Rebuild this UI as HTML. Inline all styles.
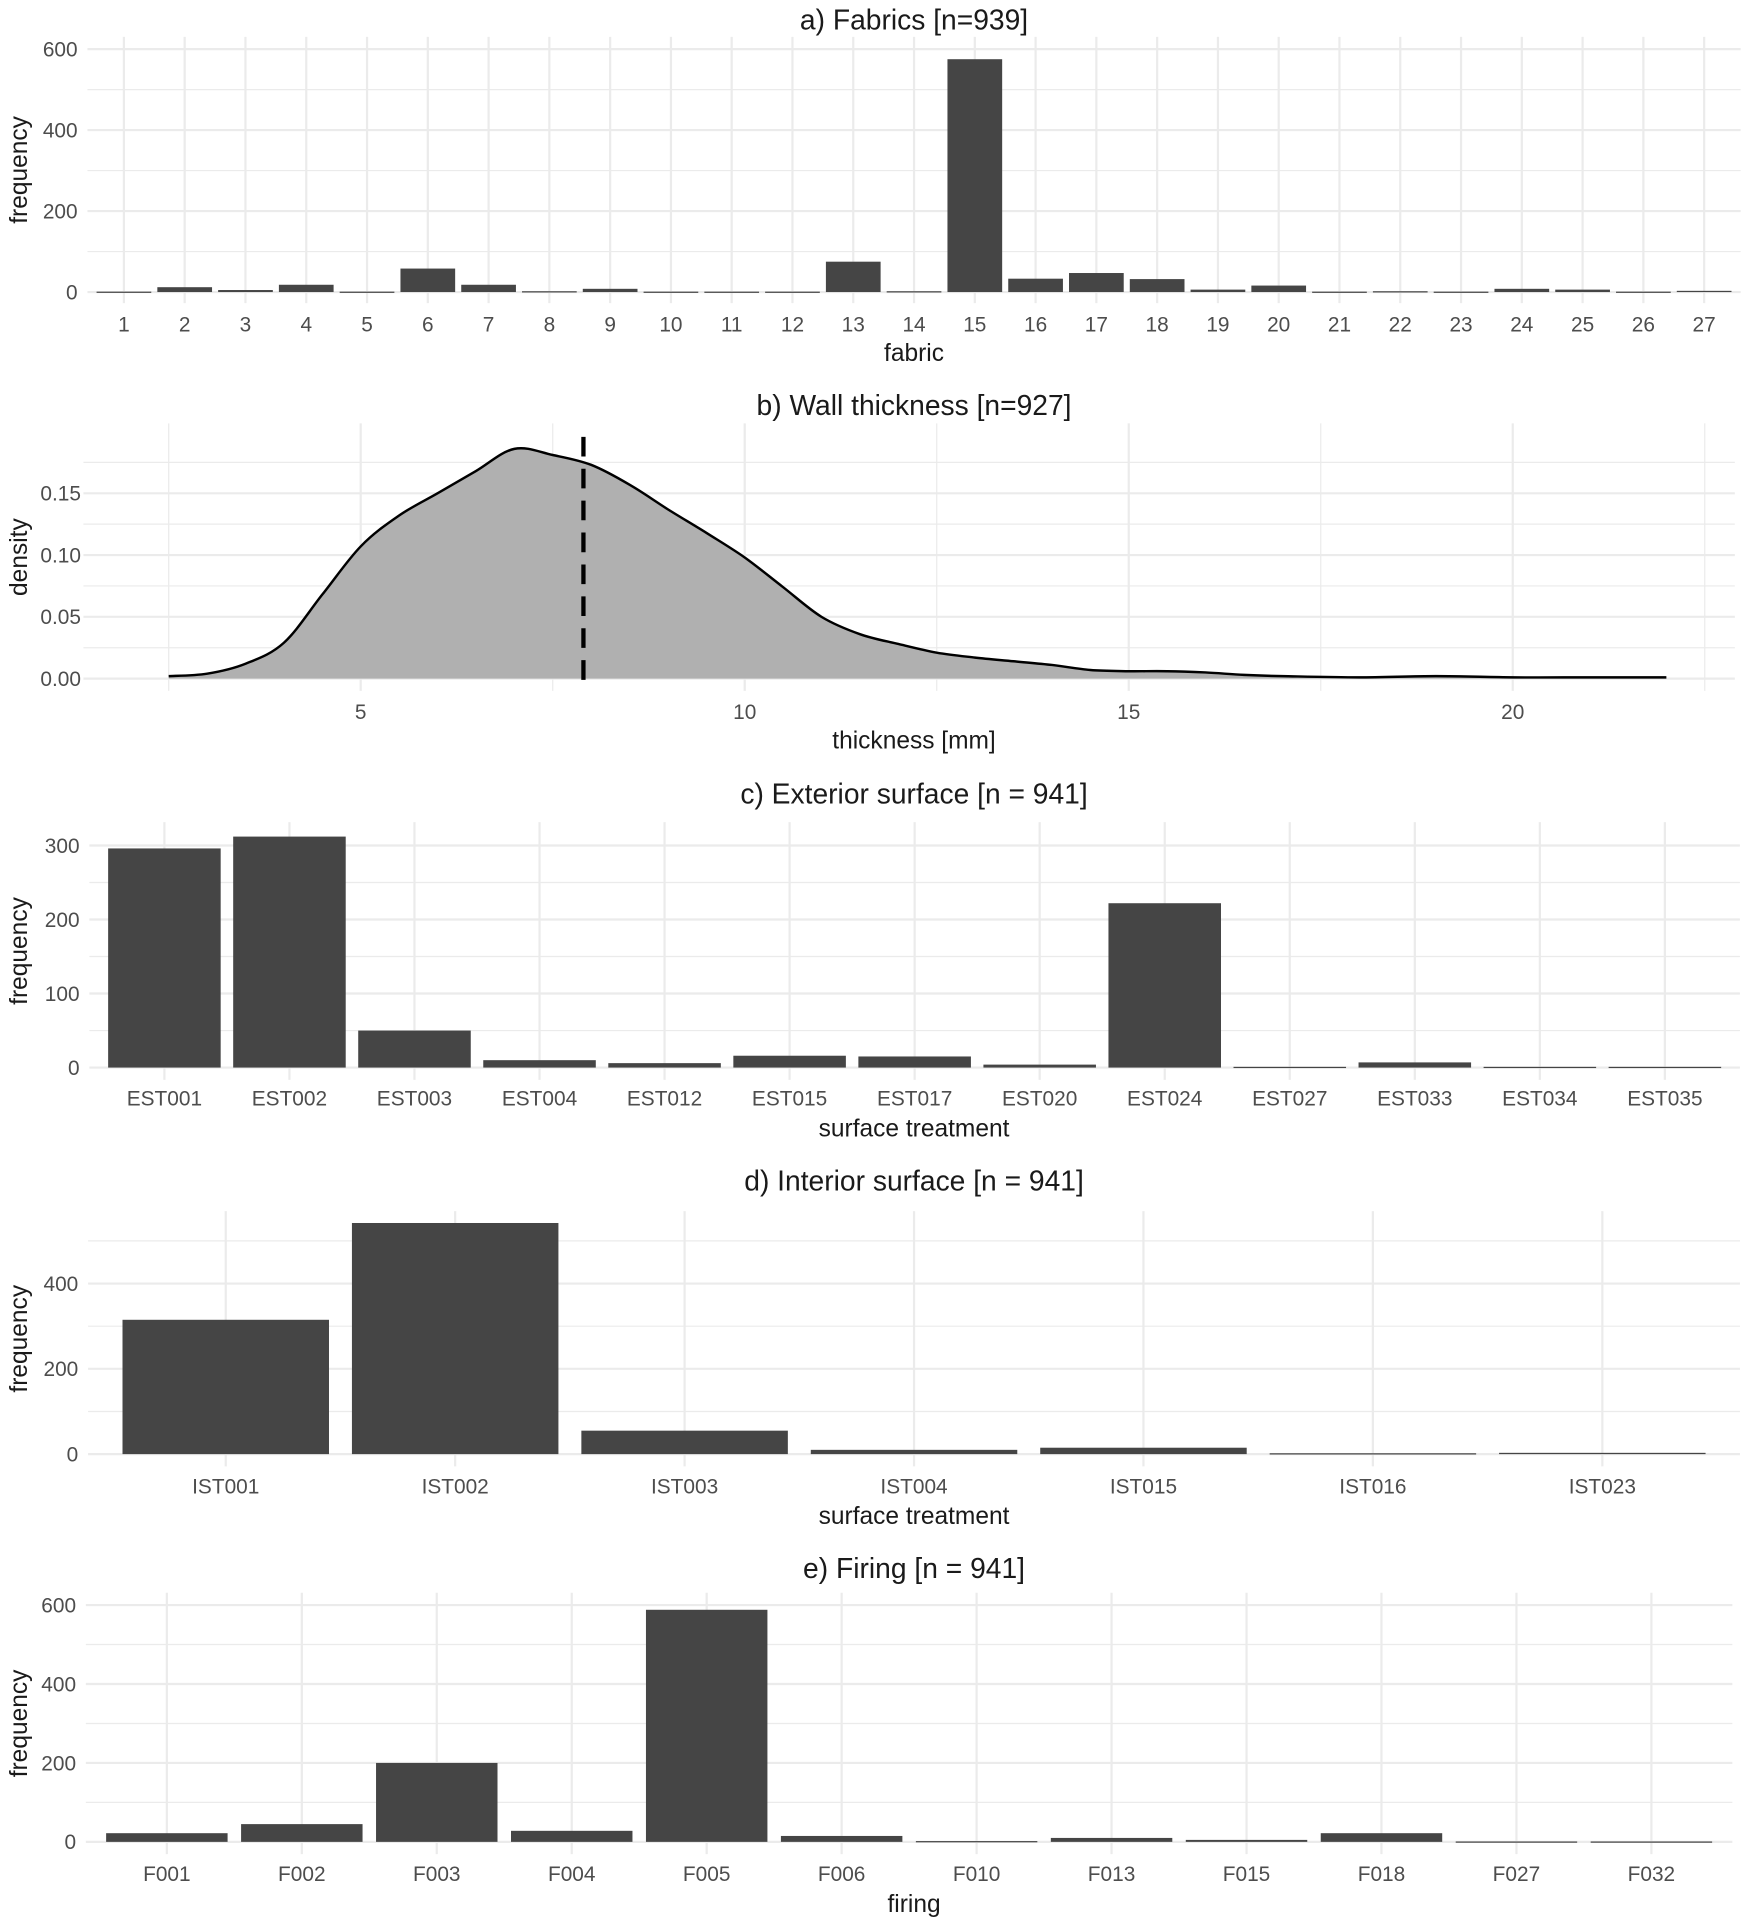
<!DOCTYPE html>
<html><head><meta charset="utf-8">
<style>
html,body{margin:0;padding:0;background:#fff;}
svg{display:block;font-family:"Liberation Sans Narrow","Liberation Sans",sans-serif;}
</style></head>
<body>
<svg id="chart" width="1752" height="1929" viewBox="0 0 1428 1572" preserveAspectRatio="none" xmlns="http://www.w3.org/2000/svg"></svg>
<script>
// ---- data ----
const fabricCats = ["1","2","3","4","5","6","7","8","9","10","11","12","13","14","15","16","17","18","19","20","21","22","23","24","25","26","27"];
const fabricVals = [1,12,5,18,1,58,18,2,8,1,1,1,75,2,575,33,47,32,6,16,1,2,1,8,6,1,3];
const fabricTicks = [0,200,400,600];

const thickX = [2.5,3,3.5,4,4.5,5,5.5,6,6.5,7,7.5,8,8.5,9,9.5,10,10.5,11,11.5,12,12.5,13,13.5,14,14.5,15,15.5,16,16.5,17,18,19,20,21,22];
const thickD = [0.002,0.004,0.012,0.029,0.068,0.107,0.132,0.15,0.168,0.186,0.181,0.173,0.157,0.137,0.118,0.098,0.074,0.05,0.036,0.028,0.021,0.017,0.014,0.011,0.007,0.006,0.006,0.005,0.003,0.002,0.001,0.002,0.001,0.001,0.001];
const thickMean = [7.9];
const thickYTicks = [0,0.05,0.10,0.15];
const thickXTicks = [5,10,15,20];

const extCats = ["EST001","EST002","EST003","EST004","EST012","EST015","EST017","EST020","EST024","EST027","EST033","EST034","EST035"];
const extVals = [296,312,50,10,6,16,15,4,222,1,7,1,1];
const extTicks = [0,100,200,300];

const intCats = ["IST001","IST002","IST003","IST004","IST015","IST016","IST023"];
const intVals = [315,542,55,10,15,2,3];
const intTicks = [0,200,400];

const firCats = ["F001","F002","F003","F004","F005","F006","F010","F013","F015","F018","F027","F032"];
const firVals = [22,45,200,28,588,15,2,10,5,22,1,1];
const firTicks = [0,200,400,600];

const svg = document.getElementById('chart');
const NS = "http://www.w3.org/2000/svg";
function mk(tag, attrs, parent, text){
  const e = document.createElementNS(NS, tag);
  for (const k in attrs) e.setAttribute(k, attrs[k]);
  if (text !== undefined) e.textContent = text;
  (parent||svg).appendChild(e);
  return e;
}
function gridLine(g,x1,y1,x2,y2,w){
  const l = mk('line',{x1,y1,x2,y2,stroke:'#ebebeb','stroke-width':w},g);
  
  
}
function texts(g, title, xTitle, titleY, xTitleY, yTitleCY, name){
  const t = mk('text',{x:745,y:titleY,'text-anchor':'middle','font-size':23,fill:'#1a1a1a'},g,title);
  
  
  const xt = mk('text',{x:745,y:xTitleY,'text-anchor':'middle','font-size':20,fill:'#1a1a1a'},g,xTitle);
  
  
}
function yTitle(g, label, cy, name){
  const yt = mk('text',{x:0,y:0,'text-anchor':'middle','font-size':20,fill:'#1a1a1a',transform:`translate(22,${cy}) rotate(-90)`},g,label);
  
  
}

function barPanel(cfg){
  const g = mk('g',{});
  
  
  const n = cfg.cats.length;
  const step = (cfg.xLast - cfg.xFirst)/(n-1);
  const left = cfg.xFirst - 0.6*step, right = cfg.xLast + 0.6*step;
  const ys = v => cfg.y0 - (v/cfg.yRefV)*(cfg.y0 - cfg.yRefPx);
  const xs = i => cfg.xFirst + i*step;
  const tk = cfg.ticks, d = tk[1]-tk[0];
  for (let v = d/2; ys(v) > cfg.top; v += d) gridLine(g,left,ys(v),right,ys(v),1);
  tk.forEach(v => gridLine(g,left,ys(v),right,ys(v),1.8));
  cfg.cats.forEach((c,i)=> gridLine(g,xs(i),cfg.top,xs(i),cfg.bottom,1.8));
  tk.forEach(v => {
    const t = mk('text',{x:left-8,y:ys(v)+6,'text-anchor':'end','font-size':17,fill:'#4d4d4d'},g,String(v));
    
    
  });
  const bw = step*0.9;
  cfg.vals.forEach((v,i)=>{
    const r = mk('rect',{x:xs(i)-bw/2,y:ys(v),width:bw,height:Math.max(ys(0)-ys(v),1),fill:'#454545'},g);
    
    
    const t = mk('text',{x:xs(i),y:cfg.tickY,'text-anchor':'middle','font-size':17,fill:'#4d4d4d'},g,cfg.cats[i]);
    
    
  });
  texts(g,cfg.title,cfg.xTitle,cfg.titleY,cfg.xTitleY,0,cfg.name);
  yTitle(g,'frequency',(cfg.top+cfg.bottom)/2,cfg.name);
}

barPanel({name:'fabrics',cats:fabricCats,vals:fabricVals,ticks:fabricTicks,xFirst:101,xLast:1389,y0:238,yRefV:600,yRefPx:40,top:30,bottom:247,tickY:270,title:'a) Fabrics [n=939]',xTitle:'fabric',titleY:24,xTitleY:294});

(function(){
  const g = mk('g',{});
  
  
  const xs = v => 294 + (v-5)*62.6;
  const ys = v => 553 - v*(151/0.15);
  const left = 68, right = 1414, top = 345, bottom = 563;
  for (let v=0.025; ys(v)>top; v+=0.05) gridLine(g,left,ys(v),right,ys(v),1);
  thickYTicks.forEach(v=>gridLine(g,left,ys(v),right,ys(v),1.8));
  for (let v=2.5; xs(v)<right; v+=5) gridLine(g,xs(v),top,xs(v),bottom,1);
  thickXTicks.forEach(v=>gridLine(g,xs(v),top,xs(v),bottom,1.8));
  thickYTicks.forEach(v=>{
    const t = mk('text',{x:left-2,y:ys(v)+6,'text-anchor':'end','font-size':17,fill:'#4d4d4d'},g,v.toFixed(2));
    
    
  });
  thickXTicks.forEach(v=>{
    const t = mk('text',{x:xs(v),y:586,'text-anchor':'middle','font-size':17,fill:'#4d4d4d'},g,String(v));
    
    
  });
  // smooth curve (Catmull-Rom -> cubic Bezier)
  const P = thickX.map((x,i)=>[xs(x), ys(thickD[i])]);
  let d = `M${P[0][0].toFixed(1)},${P[0][1].toFixed(1)}`;
  for (let i=0;i<P.length-1;i++){
    const p0=P[Math.max(i-1,0)], p1=P[i], p2=P[i+1], p3=P[Math.min(i+2,P.length-1)];
    const c1=[p1[0]+(p2[0]-p0[0])/6, p1[1]+(p2[1]-p0[1])/6];
    const c2=[p2[0]-(p3[0]-p1[0])/6, p2[1]-(p3[1]-p1[1])/6];
    d += `C${c1[0].toFixed(1)},${c1[1].toFixed(1)} ${c2[0].toFixed(1)},${c2[1].toFixed(1)} ${p2[0].toFixed(1)},${p2[1].toFixed(1)}`;
  }
  const area = mk('path',{d: d + `L${xs(thickX[thickX.length-1])},${ys(0)}L${xs(thickX[0])},${ys(0)}Z`, fill:'#b0b0b0'},g);
  
  
  const line = mk('path',{d, fill:'none', stroke:'#000','stroke-width':2,'stroke-linejoin':'round'},g);
  
  
  const ml = mk('line',{x1:xs(thickMean[0]),x2:xs(thickMean[0]),y1:356,y2:563,stroke:'#000','stroke-width':3.5,'stroke-dasharray':'16,10'},g);
  
  
  texts(g,'b) Wall thickness [n=927]','thickness [mm]',338,610,0,'wall-thickness');
  yTitle(g,'density',454,'wall-thickness');
})();

barPanel({name:'exterior-surface',cats:extCats,vals:extVals,ticks:extTicks,xFirst:134,xLast:1357,y0:870,yRefV:300,yRefPx:689,top:670,bottom:880,tickY:901,title:'c) Exterior surface [n = 941]',xTitle:'surface treatment',titleY:655,xTitleY:926});
barPanel({name:'interior-surface',cats:intCats,vals:intVals,ticks:intTicks,xFirst:184,xLast:1306,y0:1185,yRefV:400,yRefPx:1046,top:987,bottom:1195,tickY:1217,title:'d) Interior surface [n = 941]',xTitle:'surface treatment',titleY:970,xTitleY:1242});
barPanel({name:'firing',cats:firCats,vals:firVals,ticks:firTicks,xFirst:136,xLast:1346,y0:1501,yRefV:600,yRefPx:1308,top:1298,bottom:1511,tickY:1533,title:'e) Firing [n = 941]',xTitle:'firing',titleY:1286,xTitleY:1558});
</script>
</body></html>
